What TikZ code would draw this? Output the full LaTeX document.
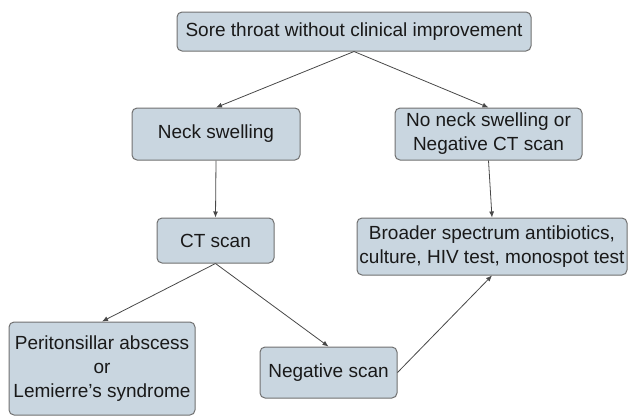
\documentclass[tikz,border=0pt]{standalone}
\usepackage{fontspec}
\setmainfont{Liberation Sans}
\usetikzlibrary{arrows.meta}
\definecolor{boxfill}{RGB}{201,214,224}
\definecolor{boxline}{RGB}{112,112,112}
\definecolor{arrowline}{RGB}{72,72,72}

\begin{document}
\begin{tikzpicture}[x=1pt,y=-1pt,
  every node/.style={draw=boxline,fill=boxfill,rounded corners=5pt,line width=1pt,
    align=center,inner sep=0pt,text=black!90,font=\fontsize{19}{24}\selectfont},
  flow/.style={draw=arrowline,line width=0.8pt,-{Latex[length=6pt,width=5pt]}}]
  \useasboundingbox (0,0) rectangle (628,416);
  \node[minimum width=354pt,minimum height=39pt] (sore) at (354,31.5) {Sore throat without clinical improvement};
  \node[minimum width=168pt,minimum height=52pt] (neck) at (216,134) {Neck swelling};
  \node[minimum width=187pt,minimum height=52pt] (noneck) at (488.5,134) {No neck swelling or\\Negative CT scan};
  \node[minimum width=117pt,minimum height=45pt] (ct) at (215.5,240.5) {CT scan};
  \node[minimum width=270pt,minimum height=57pt] (broad) at (492,246.5) {Broader spectrum antibiotics,\\culture, HIV test, monospot test};
  \node[minimum width=186pt,minimum height=93pt] (abscess) at (102,368.5) {Peritonsillar abscess\\or\\Lemierre's syndrome};
  \node[minimum width=137pt,minimum height=51pt] (neg) at (328.5,372.5) {Negative scan};
    \draw[flow] (sore.south) -- (neck.north);
    \draw[flow] (sore.south) -- (noneck.north);
    \draw[flow] (neck.south) -- (ct.north);
    \draw[flow] (noneck.south) -- (broad.north);
    \draw[flow] (ct.south) -- (abscess.north);
    \draw[flow] (ct.south) -- (neg.north);
    \draw[flow] (neg.east) -- (broad.south);
\end{tikzpicture}
\end{document}
